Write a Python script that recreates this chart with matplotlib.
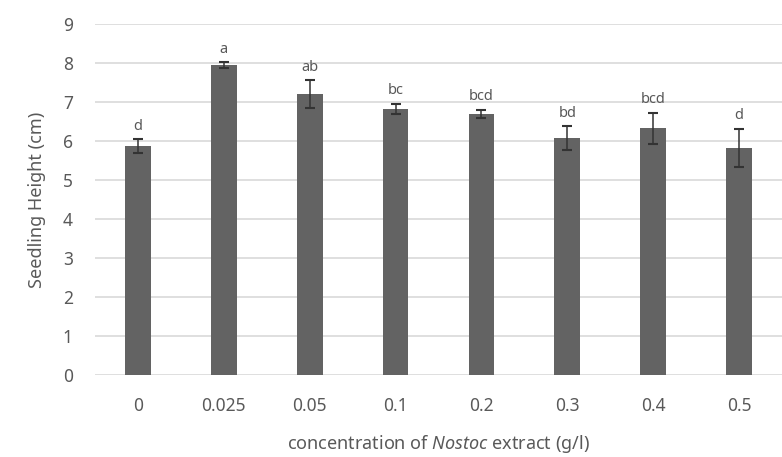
import matplotlib

matplotlib.use("Agg")
import matplotlib.pyplot as plt
import numpy as np

# values
concentrations = ["0", "0.025", "0.05", "0.1", "0.2", "0.3", "0.4", "0.5"]
heights = [5.86, 7.95, 7.20, 6.83, 6.70, 6.08, 6.33, 5.82]
errors = [0.18, 0.07, 0.36, 0.13, 0.10, 0.30, 0.40, 0.49]
letters = ["d", "a", "ab", "bc", "bcd", "bd", "bcd", "d"]

plt.rcParams["font.family"] = "Noto Sans"
plt.rcParams["mathtext.fontset"] = "custom"
plt.rcParams["mathtext.it"] = "Noto Sans:italic"
plt.rcParams["mathtext.rm"] = "Noto Sans"

text_grey = "#595959"
bar_grey = "#636363"

fig = plt.figure(figsize=(7.82, 4.57), dpi=100)
ax = fig.add_axes([95 / 782, (457 - 375) / 457, 687 / 782, (375 - 24) / 457])

x = np.arange(len(concentrations))
ax.bar(x, heights, width=0.3, color=bar_grey, zorder=3)
ax.errorbar(x, heights, yerr=errors, fmt="none", ecolor="#333333",
            elinewidth=1.1, capsize=3.5, capthick=1.5, zorder=4)

for xi, h, e, lab in zip(x, heights, errors, letters):
    ax.annotate(lab, (xi, h + e), xytext=(0, 4), textcoords="offset points",
                ha="center", va="bottom", fontsize=10.5, color=text_grey)

ax.set_xlim(-0.5, len(concentrations) - 0.5)
ax.set_ylim(0, 9)
ax.set_yticks(range(10))
ax.set_xticks(x)
ax.set_xticklabels(concentrations)
ax.yaxis.grid(True, color="#d9d9d9", linewidth=1.2, zorder=0)
ax.set_axisbelow(True)
for side in ["top", "right", "left", "bottom"]:
    ax.spines[side].set_visible(False)
ax.tick_params(axis="both", length=0, labelsize=12.5, colors=text_grey)
ax.tick_params(axis="x", pad=16)
ax.tick_params(axis="y", pad=16)

ax.set_ylabel("Seedling Height (cm)", fontsize=13, color=text_grey, labelpad=12)
ax.set_xlabel("concentration of $\\it{Nostoc}$ extract (g/l)", fontsize=13,
              color=text_grey, labelpad=13)

fig.savefig("out.png", dpi=100)
